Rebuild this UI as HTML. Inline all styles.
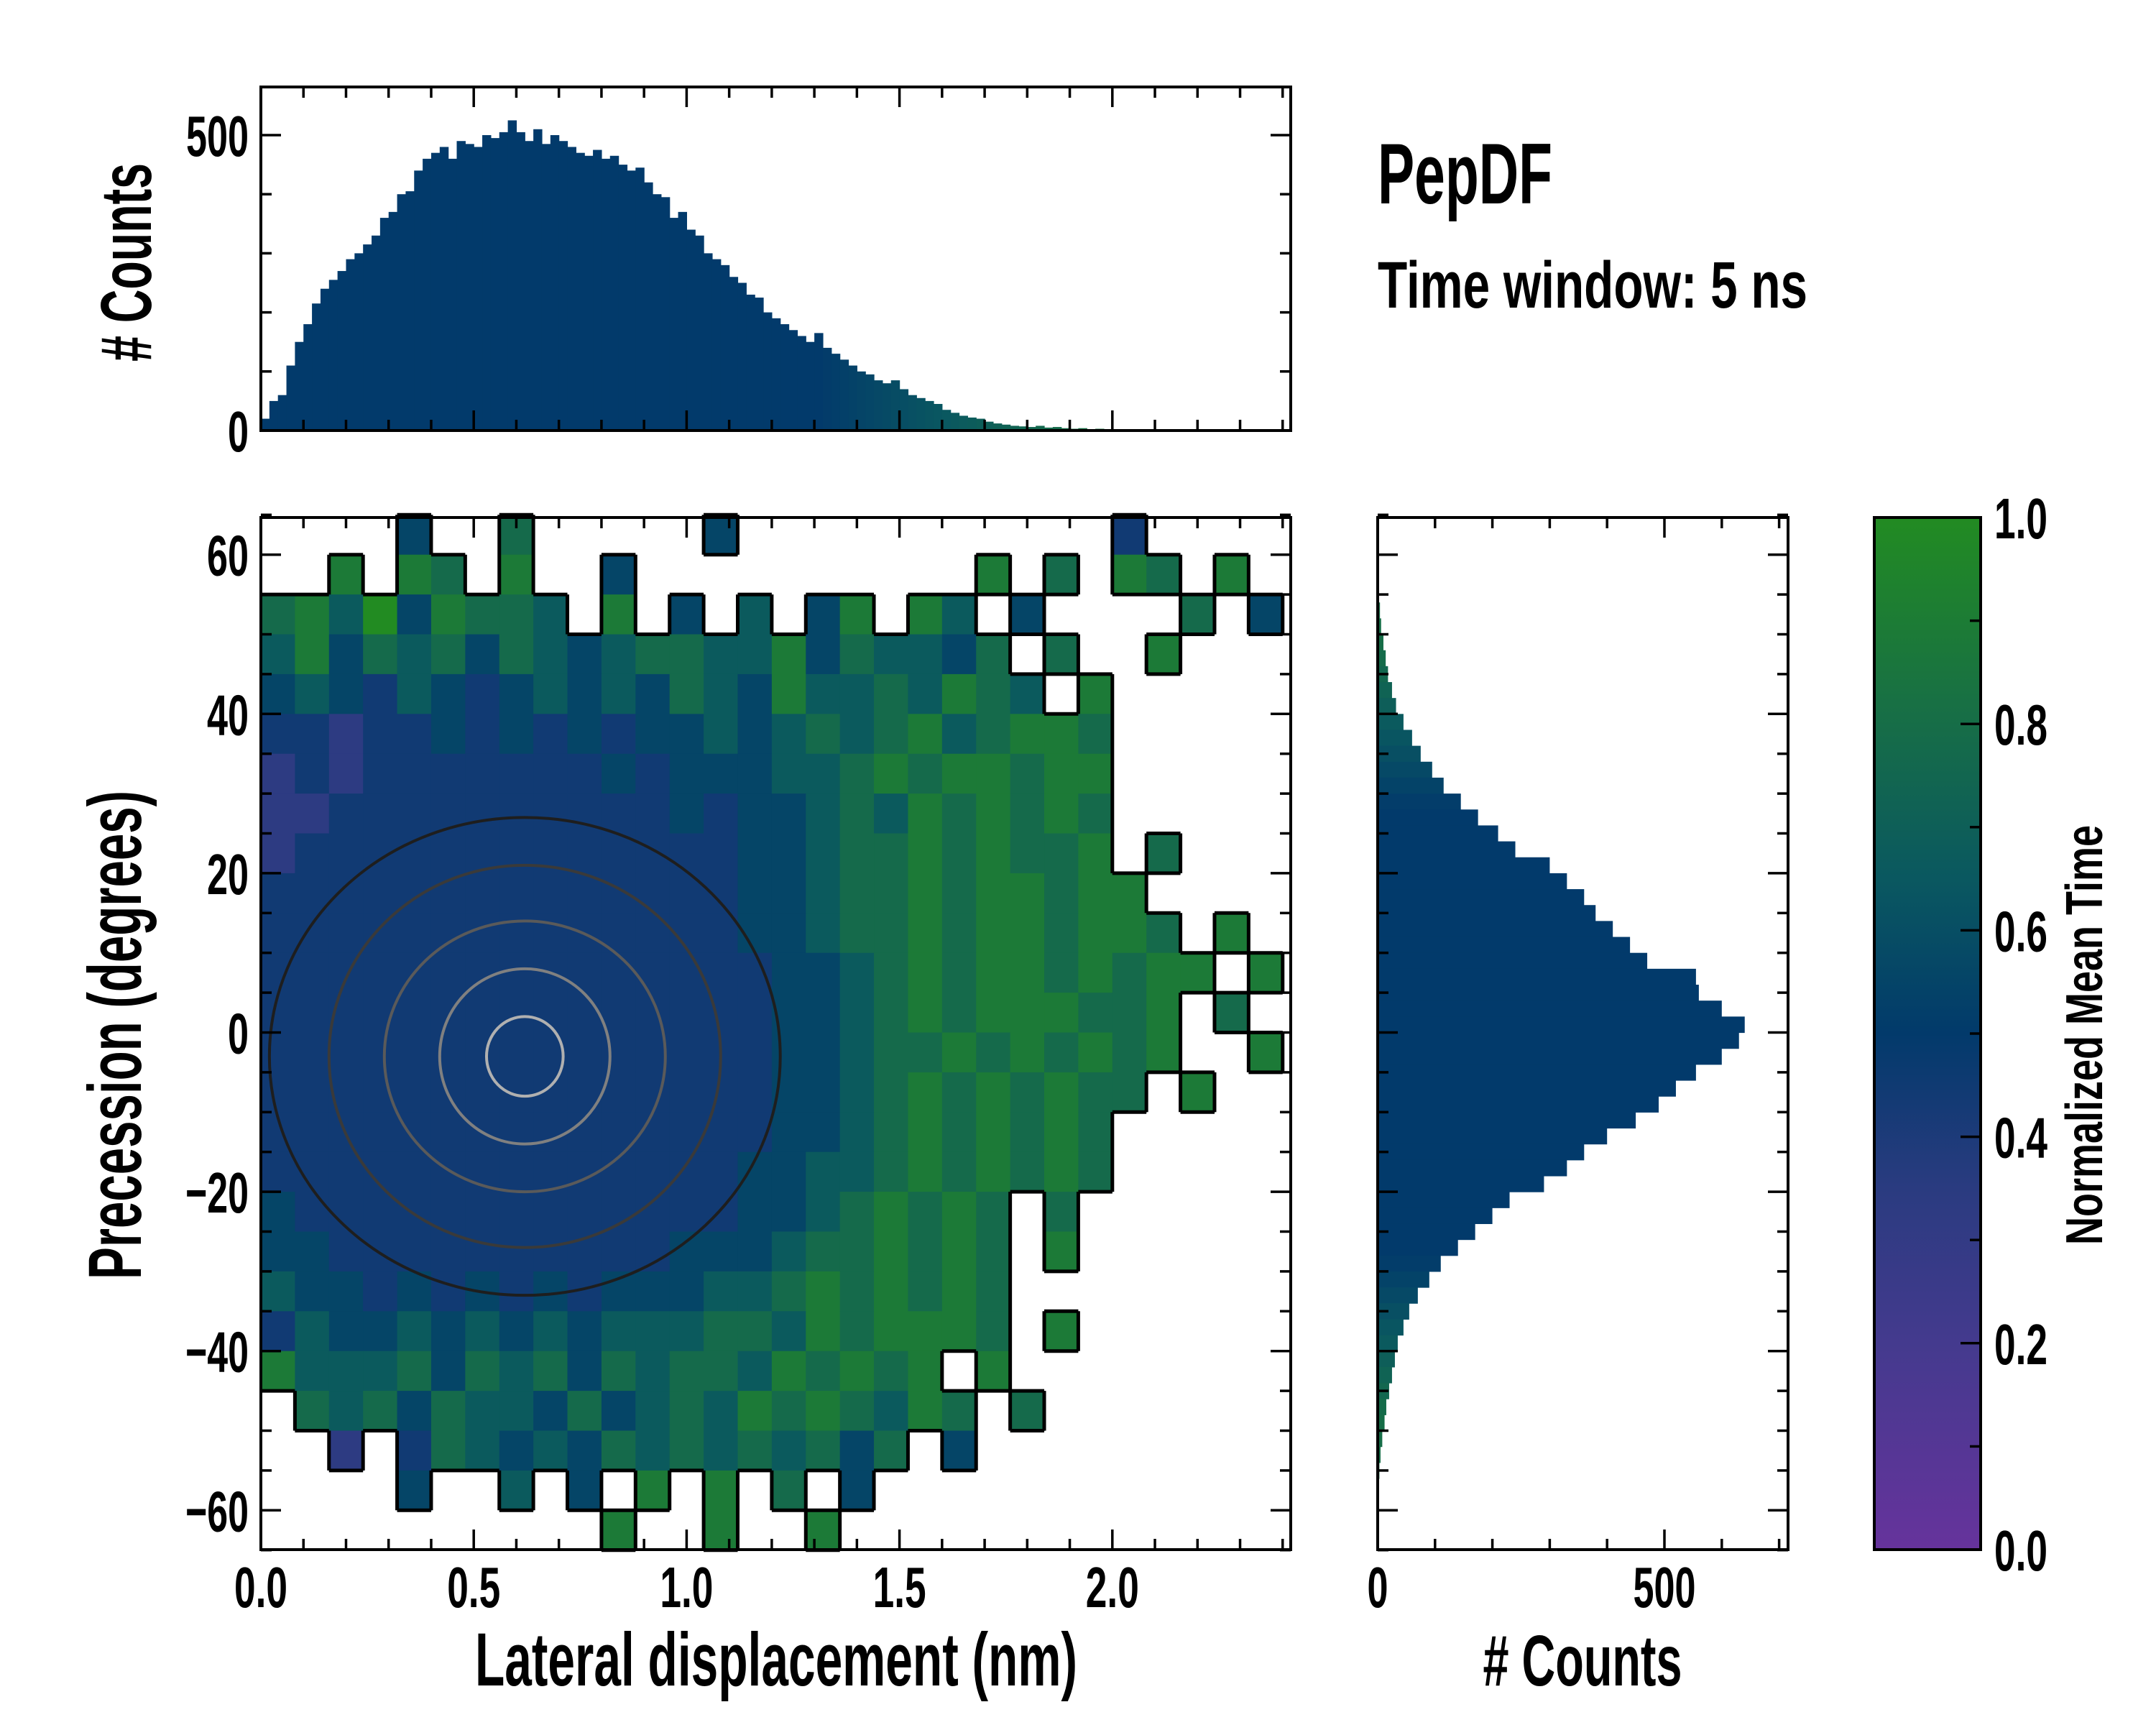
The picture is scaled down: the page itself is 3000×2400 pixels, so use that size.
<!DOCTYPE html>
<html><head><meta charset="utf-8">
<style>
html,body{margin:0;padding:0;background:#fff;}
svg{display:block;}
text{font-family:"Liberation Sans Narrow","Liberation Sans",sans-serif;font-weight:bold;fill:#000;}
</style></head>
<body>
<svg id="chart" width="3000" height="2400" viewBox="0 0 3000 2400" xmlns="http://www.w3.org/2000/svg">
<defs>
<linearGradient id="cmap" x1="0" y1="1" x2="0" y2="0">
<stop offset="0" stop-color="#66339c"/>
<stop offset="0.2" stop-color="#443a8e"/>
<stop offset="0.35" stop-color="#2a3b80"/>
<stop offset="0.5" stop-color="#023a6b"/>
<stop offset="0.65" stop-color="#0a5860"/>
<stop offset="0.82" stop-color="#187044"/>
<stop offset="1" stop-color="#228b22"/>
</linearGradient>
</defs>
<g id="heat"></g>
<g id="edges"></g>
<g id="contours"></g>
<g id="tophist"></g>
<g id="righthist"></g>
<rect x="2608" y="720" width="148" height="1436" fill="url(#cmap)" stroke="#000" stroke-width="4"/>
<g id="axes"></g>
<text x="1917" y="283" font-size="120" textLength="243" lengthAdjust="spacingAndGlyphs">PepDF</text>
<text x="1917" y="428" font-size="92" textLength="598" lengthAdjust="spacingAndGlyphs">Time window: 5 ns</text>
<text x="1080" y="2345" font-size="105" text-anchor="middle" textLength="838" lengthAdjust="spacingAndGlyphs">Lateral displacement (nm)</text>
<text transform="translate(196,1440) rotate(-90)" font-size="105" text-anchor="middle" textLength="680" lengthAdjust="spacingAndGlyphs">Precession (degrees)</text>
<text transform="translate(210,365) rotate(-90)" font-size="100" text-anchor="middle" textLength="276" lengthAdjust="spacingAndGlyphs"># Counts</text>
<text x="2202" y="2345" font-size="100" text-anchor="middle" textLength="277" lengthAdjust="spacingAndGlyphs"># Counts</text>
<text transform="translate(2925,1440) rotate(-90)" font-size="72" text-anchor="middle" textLength="584" lengthAdjust="spacingAndGlyphs">Normalized Mean Time</text>
</svg>
<script>
// ---- data ----
const heatRows = [
"....5..7.....5...........4....",
"..8.87.8..5..........8.7.87.8.",
"786958776.8.5.6.58.86.5....7.5",
"6857675765677668576657.7..8...",
"56546545656576586676876.8.....",
"4434454545455656767867887.....",
"3434444444545556678788788.....",
"3344444444445455676878787.....",
"3444444444444455677878778.7...",
"44444444444444556778788788....",
"444444444444445567787887887.8.",
"4444444444444445567878878788.8",
"444444444444444556787888778.7.",
"444444444444444556778787878..8",
"44444444444444455678787877.8..",
"4444444444444445567878787.....",
"4444444444444455667878787.....",
"5444444444444455678787.7......",
"5544444444445556778787.8......",
"6554545454555667878787........",
"4655656565666776878887.8......",
"86667576757677687878.8........",
".76757665756768787687.7.......",
"..3.476565767676757.5.........",
"....5..6.5.8.8.7.5............",
"..........8..8..8............."
];
const topHistStart = 0.0;
const topHistBinWidth = 0.02;
const topHistCounts = [20,50,60,110,150,180,215,240,255,270,290,300,315,330,360,370,400,405,440,460,470,480,460,490,485,480,500,495,505,525,505,490,510,485,500,490,480,470,465,475,460,465,450,440,445,420,400,395,360,370,340,330,300,290,280,260,250,230,225,200,190,180,170,160,150,165,140,130,120,110,100,95,85,80,85,70,60,55,50,45,35,30,25,22,20,15,12,10,8,7,6,8,5,6,4,3,4,2,3,2,2,1,0,0,1,0,0,0,0,0,1];
const rightHistCenters = [55,53,51,49,47,45,43,41,39,37,35,33,31,29,27,25,23,21,19,17,15,13,11,9,7,5,3,1,-1,-3,-5,-7,-9,-11,-13,-15,-17,-19,-21,-23,-25,-27,-29,-31,-33,-35,-37,-39,-41,-43,-45,-47,-49,-51,-53,-55,-57,-59];
const rightHistCounts = [2,4,6,10,14,18,25,32,45,60,75,95,115,145,175,210,240,300,330,360,380,410,440,470,555,560,600,640,630,600,555,520,490,450,400,360,330,290,230,200,170,140,110,90,70,55,45,35,30,25,20,15,12,8,5,3,2,1];
const contourRx = [0.6,0.46,0.33,0.2,0.09];
const contourRy = [30,24,17,11,5];
const contourColors = ["#1e1e1e","#3a3a3a","#5a5a5a","#808080","#b0b0b0"];
const xTickLabels = ["0.0","0.5","1.0","1.5","2.0"];
const yTickLabels = ["60","40","20","0","\u221220","\u221240","\u221260"];
const cbTickLabels = ["0.0","0.2","0.4","0.6","0.8","1.0"];

// ---- scales ----
const ML=363, MR=1796, MT=720, MB=2156;
const X = v => ML + v*592.4;
const Y = d => 1436.5 - d*11.08;
const YH = c => 599 - c*0.822;
const RL=1917, RR=2488;
const XR = c => RL + c*0.798;
const CB = v => MB - v*(MB-MT);
const NS = "http://www.w3.org/2000/svg";
function mk(tag, attrs, parent){const e=document.createElementNS(NS,tag);for(const k in attrs)e.setAttribute(k,attrs[k]);parent.appendChild(e);return e;}
const stops=[[0,[102,51,156]],[0.2,[68,58,142]],[0.35,[42,59,128]],[0.5,[2,58,107]],[0.65,[10,88,96]],[0.82,[24,112,68]],[1,[34,139,34]]];
function cmap(v){for(let i=1;i<stops.length;i++){if(v<=stops[i][0]){const a=stops[i-1],b=stops[i];const t=(v-a[0])/(b[0]-a[0]);const c=a[1].map((x,j)=>Math.round(x+(b[1][j]-x)*t));return "rgb("+c.join(",")+")";}}return "rgb(34,139,34)";}

// ---- heatmap ----
const heat=document.getElementById('heat');
const cw=0.08, rh=5;
const occ=(r,c)=>r>=0&&r<heatRows.length&&c>=0&&c<30&&heatRows[r][c]&&heatRows[r][c]!=='.';
heatRows.forEach((row,r)=>{
  for(let c=0;c<30;c++){
    const ch=row[c]; if(!ch||ch==='.')continue;
    const v=parseInt(ch)/9;
    const x0=X(c*cw), x1=X((c+1)*cw), y0=Y(65-r*rh), y1=Y(65-(r+1)*rh);
    const el=mk('rect',{x:x0,y:y0,width:x1-x0+0.5,height:y1-y0+0.5,fill:cmap(v)},heat);
    
    
  }
});
const edges=document.getElementById('edges');
let ed="";
heatRows.forEach((row,r)=>{
  for(let c=0;c<30;c++){
    if(!occ(r,c))continue;
    const x0=X(c*cw), x1=X((c+1)*cw), y0=Y(65-r*rh), y1=Y(65-(r+1)*rh);
    if(!occ(r-1,c)) ed+=`M${x0},${y0}H${x1}`;
    if(!occ(r+1,c)) ed+=`M${x0},${y1}H${x1}`;
    if(!occ(r,c-1)&&c>0) ed+=`M${x0},${y0}V${y1}`;
    if(!occ(r,c+1)) ed+=`M${x1},${y0}V${y1}`;
  }
});
const ep=mk('path',{d:ed,fill:'none',stroke:'#000','stroke-width':5},edges);



// ---- contours ----
const cont=document.getElementById('contours');
contourRx.forEach((rx,i)=>{
  const cx=X(0.62), cy=Y(-3);
  const el=mk('ellipse',{cx:cx,cy:cy,rx:rx*592.4,ry:contourRy[i]*11.08,fill:'none',stroke:contourColors[i],'stroke-width':4},cont);
  
  
});

// ---- top histogram ----
const th=document.getElementById('tophist');
topHistCounts.forEach((c,i)=>{
  if(c<=0)return;
  const x0=topHistStart+i*topHistBinWidth;
  const frac=Math.min(1,Math.max(0,(x0-1.3)/0.8));
  const el=mk('rect',{x:X(x0),y:YH(c),width:X(x0+topHistBinWidth)-X(x0)+0.6,height:YH(0)-YH(c),fill:cmap(0.5+0.4*frac)},th);
  
  
});
// ---- right histogram ----
const rhg=document.getElementById('righthist');
rightHistCenters.forEach((yc,i)=>{
  const c=rightHistCounts[i];
  const a=Math.abs(yc); const frac=Math.min(1,Math.max(0,(a-28)/20));
  const el=mk('rect',{x:XR(0),y:Y(yc+1),width:XR(c)-XR(0),height:Y(yc-1)-Y(yc+1)+0.6,fill:cmap(0.5+0.3*frac)},rhg);
  
  
});

// ---- axes ----
const ax=document.getElementById('axes');
function frame(x0,y0,x1,y1,name){const e=mk('rect',{x:x0,y:y0,width:x1-x0,height:y1-y0,fill:'none',stroke:'#000','stroke-width':4},ax);}
function tick(x1,y1,x2,y2){mk('line',{x1:x1,y1:y1,x2:x2,y2:y2,stroke:'#000','stroke-width':3.5},ax);}
function label(x,y,t,anchor){
  let w=0;for(const ch of t){w+= (ch==='.')?16:(ch==='\u2212'?30:29);}
  const e=mk('text',{x:x,y:y,'font-size':80,'text-anchor':anchor,textLength:w,lengthAdjust:'spacingAndGlyphs'},ax);
  e.textContent=t;
  
  
}
frame(ML,MT,MR,MB,'main-axes-frame');
frame(ML,121,MR,599,'top-hist-frame');
frame(RL,MT,RR,MB,'right-hist-frame');
for(let k=0;k<=24;k++){const v=k*0.1;const x=X(v);const L=(k%5===0)?28:15;
  tick(x,MB,x,MB-L);tick(x,MT,x,MT+L);tick(x,599,x,599-L);tick(x,121,x,121+L);}
xTickLabels.forEach((t,i)=>label(X(i*0.5),2236,t,'middle'));
for(let d=-65;d<=65;d+=5){const y=Y(d);const L=(d%20===0)?28:15;
  tick(ML,y,ML+L,y);tick(MR,y,MR-L,y);tick(RL,y,RL+L,y);tick(RR,y,RR-L,y);}
yTickLabels.forEach((t,i)=>label(346,Y(60-i*20)+29,t,'end'));
for(let c=0;c<=500;c+=100){const y=YH(c);const L=(c%500===0)?28:15;tick(ML,y,ML+L,y);tick(MR,y,MR-L,y);}
label(346,YH(500)+29,"500",'end');label(346,YH(0)+29,"0",'end');
for(let c=0;c<=700;c+=100){const x=XR(c);const L=(c%500===0)?28:15;tick(x,MB,x,MB-L);tick(x,MT,x,MT+L);}
label(XR(0),2236,"0",'middle');label(XR(500),2236,"500",'middle');
for(let k=0;k<=10;k++){const y=CB(k/10);const L=(k%2===0)?28:15;tick(2756,y,2756-L,y);}
cbTickLabels.forEach((t,i)=>label(2775,CB(i*0.2)+29,t,'start'));
</script>
</body></html>
